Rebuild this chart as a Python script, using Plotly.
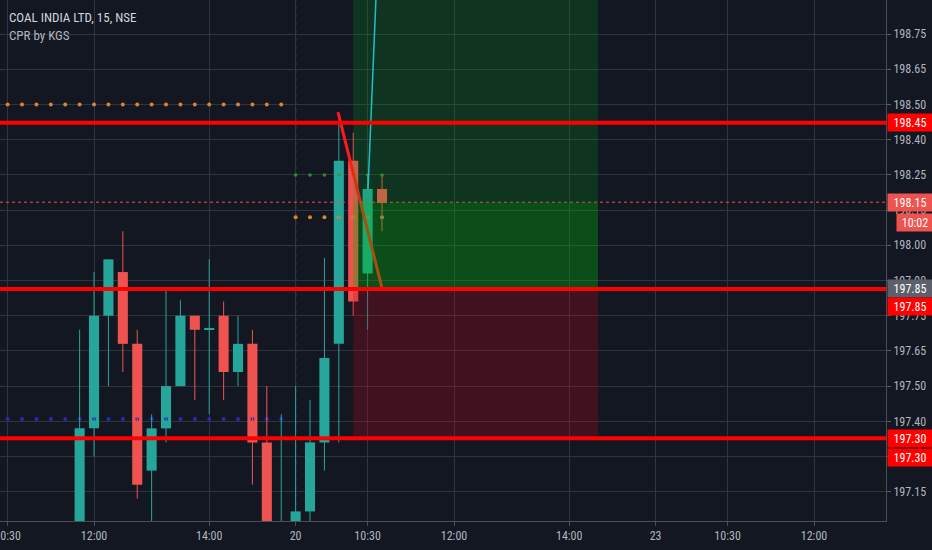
import plotly.graph_objects as go

# ---------------- data ----------------
# bar index: 0 = 19th 09:15, 15-minute bars; 25 = 20th 09:15; 50 = 23rd 09:15
bar_idx = list(range(10, 32))
opens  = [196.95, 197.35, 197.75, 197.905, 197.65, 197.20, 197.35, 197.50, 197.75, 197.70, 197.75,
          197.55, 197.65, 197.30, 196.90, 197.00, 197.055, 197.30, 197.65, 198.30, 197.90, 198.20]
highs  = [197.70, 197.905, 197.95, 198.05, 197.70, 197.40, 197.85, 197.805, 197.75, 197.95, 197.80,
          197.75, 197.70, 197.50, 197.40, 197.50, 197.45, 197.955, 198.43, 198.40, 198.25, 198.25]
lows   = [196.90, 197.25, 197.50, 197.55, 197.10, 196.95, 197.30, 197.50, 197.45, 197.40, 197.45,
          197.50, 197.15, 196.90, 196.85, 196.98, 197.015, 197.20, 197.30, 197.75, 197.70, 198.05]
closes = [197.35, 197.75, 197.95, 197.65, 197.15, 197.35, 197.50, 197.75, 197.70, 197.70, 197.55,
          197.65, 197.30, 196.95, 196.98, 197.055, 197.30, 197.60, 198.30, 197.80, 198.20, 198.15]

# indicator dots (CPR by KGS)
cpr_top_idx = list(range(5, 25)); cpr_top_val = [198.50] * 20
cpr_bot_idx = list(range(5, 25)); cpr_bot_val = [197.383] * 20
cpr_d20_orange_idx = list(range(25, 32)); cpr_d20_orange_val = [198.10] * 7
cpr_d20_green_idx = list(range(25, 32)); cpr_d20_green_val = [198.25] * 7

# horizontal levels (position) and their tag texts
level_vals = [198.435, 197.845, 197.315]
current_price = 198.153
session_break_idx = 25

# long-position tool
pos_x = [29.0, 46.0]
pos_entry = 197.845
pos_stop = 197.315
pos_target = 199.2

# drawn lines
trend_x = [27.94, 31.0]; trend_y = [198.473, 197.848]
cyan_x = [30.03, 30.72]; cyan_y = [198.20, 199.05]

# axes
x_tickvals = [5, 11, 19, 25, 30, 36, 44, 50, 55, 61]
x_ticktext = ["10:30", "12:00", "14:00", "20", "10:30", "12:00", "14:00", "23", "10:30", "12:00"]
y_tickvals = [198.75 - 0.125 * k for k in range(14)]
y_ticktext = ["198.75", "198.65", "198.50", "198.40", "198.25", "198.15", "198.00",
              "197.90", "197.75", "197.65", "197.50", "197.40", "197.25", "197.15"]

# ---------------- styles ----------------
BG = "#131722"
GRID = "#30343f"
UP = "#26a69a"
DOWN = "#ef5350"
TXT = "#b2b5be"
FONT = "Liberation Sans Narrow, Arial Narrow, Roboto Condensed, Roboto, sans-serif"

fig = go.Figure()

# indicator dots
fig.add_trace(go.Scatter(x=cpr_top_idx, y=cpr_top_val, mode="markers",
                         marker=dict(color="#d9823a", size=4), hoverinfo="skip"))
fig.add_trace(go.Scatter(x=cpr_bot_idx, y=cpr_bot_val, mode="markers",
                         marker=dict(color="#2a2ab8", size=4), hoverinfo="skip"))
fig.add_trace(go.Scatter(x=cpr_d20_orange_idx, y=cpr_d20_orange_val, mode="markers",
                         marker=dict(color="#d9823a", size=4), hoverinfo="skip"))
fig.add_trace(go.Scatter(x=cpr_d20_green_idx, y=cpr_d20_green_val, mode="markers",
                         marker=dict(color="#2e8b3a", size=3.5), hoverinfo="skip"))

# candles: wicks + bodies
up = [c >= o for o, c in zip(opens, closes)]
for flag, col in ((True, UP), (False, DOWN)):
    wx, wy = [], []
    bx, bb, bh = [], [], []
    for i, o, h, l, c, u in zip(bar_idx, opens, highs, lows, closes, up):
        if u != flag:
            continue
        wx += [i, i, None]
        wy += [l, h, None]
        bx.append(i)
        bb.append(min(o, c))
        bh.append(max(abs(c - o), 0.004))
    fig.add_trace(go.Scatter(x=wx, y=wy, mode="lines", line=dict(color=col, width=1),
                             hoverinfo="skip"))
    fig.add_trace(go.Bar(x=bx, y=bh, base=bb, width=0.7, marker=dict(color=col, line=dict(width=0)),
                         hoverinfo="skip"))

# drawn lines
fig.add_trace(go.Scatter(x=trend_x, y=trend_y, mode="lines", line=dict(color="#ff1a1a", width=3),
                         hoverinfo="skip"))
fig.add_trace(go.Scatter(x=cyan_x, y=cyan_y, mode="lines", line=dict(color="#29c5f6", width=1.5),
                         hoverinfo="skip"))

shapes = []
# session break
shapes.append(dict(type="line", xref="x", yref="paper", x0=session_break_idx, x1=session_break_idx,
                   y0=0, y1=1, line=dict(color="#8a9ccc", width=1, dash="4px,4px"), layer="below"))
# current price dotted
shapes.append(dict(type="line", xref="paper", yref="y", x0=0, x1=1, y0=current_price, y1=current_price,
                   line=dict(color="#ef5350", width=1, dash="dot"), layer="above"))
# position tool overlays
shapes.append(dict(type="rect", xref="x", yref="y", x0=pos_x[0], x1=pos_x[1], y0=current_price, y1=pos_target,
                   fillcolor="rgba(0,170,20,0.20)", line=dict(width=0), layer="above"))
shapes.append(dict(type="rect", xref="x", yref="y", x0=pos_x[0], x1=pos_x[1], y0=pos_entry, y1=current_price,
                   fillcolor="rgba(0,180,10,0.35)", line=dict(width=0), layer="above"))
shapes.append(dict(type="rect", xref="x", yref="y", x0=pos_x[0], x1=pos_x[1], y0=pos_stop, y1=pos_entry,
                   fillcolor="rgba(200,0,20,0.25)", line=dict(width=0), layer="above"))
# red horizontal levels
for v in level_vals:
    shapes.append(dict(type="line", xref="paper", yref="y", x0=0, x1=1, y0=v, y1=v,
                       line=dict(color="#ff0000", width=4), layer="above"))

annotations = []
# title / legend
annotations.append(dict(xref="paper", yref="paper", x=0, y=1, xanchor="left", yanchor="top",
                        xshift=7, yshift=-8, text="COAL INDIA LTD, 15, NSE", showarrow=False,
                        font=dict(family=FONT, size=13, color="#d1d4dc")))
annotations.append(dict(xref="paper", yref="paper", x=0, y=1, xanchor="left", yanchor="top",
                        xshift=7, yshift=-26, text="CPR by KGS", showarrow=False,
                        font=dict(family=FONT, size=13, color="#b2b5be")))

# price tags on the right axis
def tag(y, text, bg, yshift=0, width=44, xshift=1):
    annotations.append(dict(xref="paper", yref="y", x=1, y=y, xanchor="left", yanchor="middle",
                            xshift=xshift, yshift=yshift, text=text, showarrow=False, bgcolor=bg,
                            width=width, height=17, borderpad=0, align="center",
                            font=dict(family=FONT, size=12, color="#ffffff")))

tag(level_vals[0], "198.45", "#ff0000")
tag(current_price, "198.15", "#ef5350")
tag(current_price, "10:02", "#ef5350", yshift=-20, width=36, xshift=10)
tag(level_vals[1], "197.85", "#5d606b")
tag(level_vals[1], "197.85", "#ff0000", yshift=-18)
tag(level_vals[2], "197.30", "#ff0000")
tag(level_vals[2], "197.30", "#ff0000", yshift=-19)

fig.update_layout(
    width=932, height=550,
    margin=dict(l=0, r=46, t=0, b=29),
    paper_bgcolor=BG, plot_bgcolor=BG,
    showlegend=False, barmode="overlay",
    shapes=shapes, annotations=annotations,
    font=dict(family=FONT, size=12, color=TXT),
    xaxis=dict(range=[4.47, 66.0], tickvals=x_tickvals, ticktext=x_ticktext, automargin=False,
               showgrid=True, gridcolor=GRID, gridwidth=1, zeroline=False,
               showline=True, linecolor="#4a4e59", linewidth=1,
               ticks="outside", ticklen=4, tickcolor="#4a4e59", ticklabeloverflow="allow",
               tickfont=dict(family=FONT, size=12, color=TXT)),
    yaxis=dict(range=[197.021, 198.871], side="right", tickvals=y_tickvals, ticktext=y_ticktext,
               automargin=False,
               showgrid=True, gridcolor=GRID, gridwidth=1, zeroline=False,
               showline=True, linecolor="#4a4e59", linewidth=1,
               ticks="outside", ticklen=4, tickcolor="#5d606b", ticklabeloverflow="allow",
               tickfont=dict(family=FONT, size=12, color=TXT)),
)

fig.write_html("out.html", config={"displayModeBar": False},
               post_script="document.body.style.margin='0';document.body.style.background='#131722';")
